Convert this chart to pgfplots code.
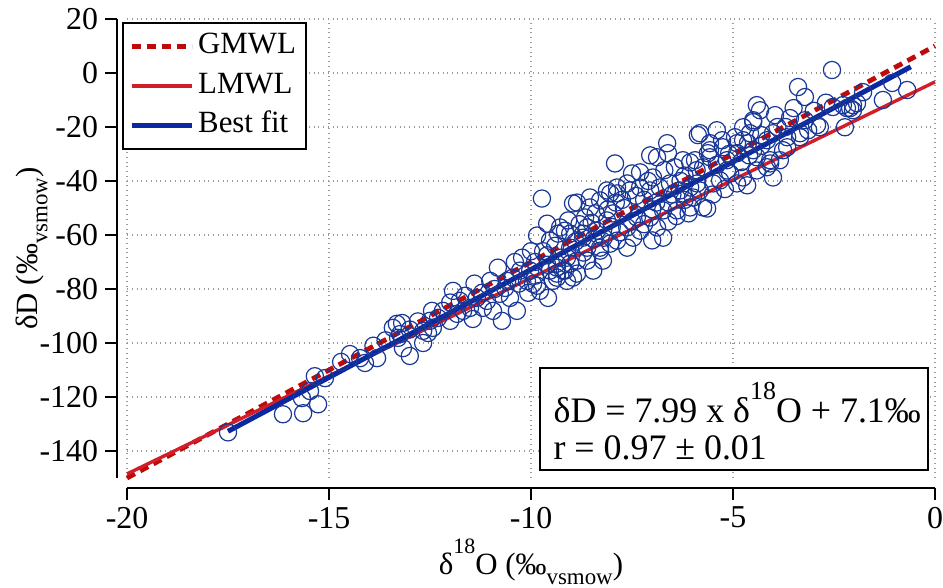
\documentclass[border=0pt]{standalone}
\usepackage{fontspec}
\setmainfont{Liberation Serif}
\usepackage{pgfplots}
\pgfplotsset{compat=1.18}
\definecolor{ptblue}{RGB}{25,55,150}
\definecolor{fitblue}{RGB}{10,40,160}
\definecolor{lmred}{RGB}{210,30,40}
\definecolor{gmred}{RGB}{190,10,10}
\pgfplotstableread{
x y
-17.5 -133.1
-16.14 -126.4
-15.64 -126.0
-15.27 -122.7
-15.35 -112.3
-15.1 -113.0
-15.67 -120.4
-15.47 -117.8
-14.48 -104.1
-14.23 -105.6
-14.11 -107.4
-13.81 -105.6
-13.42 -94.4
-13.19 -92.6
-13.29 -98.1
-13.17 -101.9
-13.0 -104.8
-12.67 -100.0
-12.55 -96.3
-12.45 -88.1
-12.3 -90.7
-12.0 -91.8
-11.93 -80.7
-11.76 -84.4
-11.68 -88.1
-11.44 -91.1
-11.34 -83.3
-11.19 -87.0
-10.94 -88.1
-10.77 -81.8
-10.72 -91.8
-10.35 -88.1
-10.59 -77.0
-10.22 -68.4
-10.02 -73.2
-9.95 -78.1
-9.78 -80.7
-9.58 -83.3
-9.53 -73.2
-9.36 -75.8
-9.21 -73.2
-9.03 -70.6
-8.96 -75.8
-10.82 -72.1
-10.07 -81.4
-9.85 -78.8
-9.9 -75.1
-9.85 -60.2
-9.53 -62.1
-9.6 -55.8
-9.33 -59.5
-9.16 -58.4
-9.28 -68.4
-9.36 -74.3
-9.46 -77.0
-9.16 -73.2
-9.11 -77.0
-11.51 -87.0
-11.09 -84.4
-11.63 -82.5
-11.83 -89.2
-12.18 -88.1
-12.5 -91.8
-12.67 -95.5
-12.43 -94.4
-13.32 -92.9
-13.24 -96.7
-10.64 -79.6
-10.52 -83.3
-11.01 -77.0
-11.21 -81.4
-10.1 -77.0
-9.73 -46.5
-8.86 -48.0
-8.54 -49.8
-8.29 -47.2
-8.12 -43.5
-7.87 -44.6
-8.66 -53.5
-9.08 -54.6
-9.03 -59.5
-8.71 -61.0
-8.37 -58.4
-8.12 -54.6
-7.97 -52.0
-8.29 -64.7
-8.04 -63.2
-8.46 -73.2
-8.86 -74.3
-8.61 -69.5
-9.11 -68.4
-9.36 -72.1
-10.27 -73.2
-10.45 -75.8
-8.22 -69.5
-7.92 -33.5
-6.88 -31.2
-6.61 -29.7
-7.05 -30.5
-6.06 -33.1
-6.44 -34.9
-5.62 -29.7
-7.5 -37.2
-7.3 -36.8
-6.98 -38.7
-7.87 -42.4
-7.62 -40.9
-8.04 -44.6
-8.54 -46.1
-8.96 -48.3
-7.55 -43.5
-7.3 -42.4
-7.05 -43.5
-6.81 -42.4
-6.56 -40.9
-6.31 -43.5
-6.06 -42.4
-5.82 -43.5
-5.74 -49.8
-6.06 -49.8
-6.39 -50.9
-6.73 -50.9
-7.05 -53.5
-7.38 -53.5
-7.62 -57.2
-7.3 -58.4
-6.73 -61.0
-6.88 -57.2
-7.87 -62.1
-8.61 -57.2
-9.28 -57.2
-9.03 -64.7
-8.61 -64.7
-8.29 -65.8
-8.86 -69.5
-9.36 -70.6
-7.62 -64.7
-7.47 -61.0
-8.71 -59.5
-2.55 1.1
-3.39 -5.2
-3.22 -8.9
-1.06 -3.7
-0.69 -6.3
-1.29 -10.0
-4.41 -11.9
-4.33 -13.8
-3.96 -15.6
-2.18 -13.0
-2.03 -11.9
-2.23 -20.1
-3.59 -16.7
-3.22 -17.5
-4.5 -17.5
-4.75 -20.1
-2.92 -19.3
-5.4 -21.2
-5.87 -23.0
-4.95 -23.8
-5.57 -28.6
-5.27 -24.9
-3.76 -28.6
-3.34 -23.8
-4.08 -32.3
-3.84 -32.3
-4.5 -28.6
-4.75 -24.9
-4.9 -26.0
-6.63 -26.0
-6.24 -32.3
-5.74 -34.9
-5.57 -31.2
-5.64 -50.2
-4.9 -40.9
-4.65 -41.6
-4.16 -34.9
-5.32 -39.8
-5.07 -37.2
-6.24 -44.6
-5.82 -22.3
-4.5 -18.2
-5.57 -26.0
-4.58 -22.3
-4.63 -26.0
-5.25 -27.5
-5.94 -32.3
-5.15 -32.3
-4.9 -29.7
-4.41 -31.2
-4.08 -33.5
-4.16 -24.9
-4.01 -22.3
-3.66 -23.8
-3.34 -22.3
-3.14 -21.2
-2.85 -20.1
-3.66 -27.5
-4.01 -38.7
-4.41 -36.1
-4.75 -38.7
-5.15 -36.1
-5.49 -40.9
-5.89 -40.9
-5.99 -46.1
-2.03 -13.8
-1.93 -11.2
-2.53 -12.6
-1.78 -7.1
-2.1 -13.0
-2.28 -11.9
-8.8 -56.0
-8.4 -52.0
-8.0 -57.0
-7.7 -50.0
-7.2 -47.0
-6.9 -48.0
-6.5 -45.0
-6.2 -38.0
-5.9 -36.0
-7.1 -40.0
-7.9 -48.0
-8.2 -61.0
-7.5 -55.0
-6.6 -55.0
-6.2 -47.0
-9.4 -64.0
-9.7 -66.0
-10.0 -66.0
-9.9 -70.0
-9.6 -71.0
-10.3 -78.0
-10.9 -80.0
-11.4 -78.0
-12.0 -85.0
-12.8 -92.0
-13.6 -99.0
-13.9 -101.0
-14.7 -107.0
-13.0 -95.0
-7.0 -62.0
-6.4 -53.0
-5.5 -45.0
-5.2 -43.0
-4.8 -33.0
-4.3 -27.0
-3.9 -20.0
-3.5 -13.0
-3.0 -14.0
-2.7 -11.0
-6.7 -36.0
-8.5 -55.5
-8.1 -50.5
-7.75 -47.0
-7.4 -45.5
-7.0 -50.5
-6.6 -48.0
-6.3 -40.0
-8.9 -62.5
-8.45 -61.5
-7.8 -59.0
-7.2 -56.0
-6.1 -52.0
-9.6 -67.5
-10.4 -70.0
-8.7 -66.5
-5.4 -34.0
-5.1 -30.0
-4.6 -30.5
-4.3 -23.0
-3.7 -20.0
}\obs
\begin{document}
\begin{tikzpicture}
\useasboundingbox (0,0) rectangle (471.5bp,294bp);
\begin{axis}[
  at={(63.5bp,55bp)}, anchor=south west,
  scale only axis, width=404bp, height=229.5bp,
  xmin=-20, xmax=0, ymin=-150, ymax=20,
  axis lines*=left,
  axis x line shift=5bp, axis y line shift=5bp,
  axis line style={line width=1bp, black},
  tick align=outside, major tick length=6bp,
  tick style={line width=1bp, black},
  xtick={-20,-15,...,0}, ytick={-140,-120,...,20},
  grid=major, grid style={dotted, gray!80, line width=0.6bp},
  /pgf/number format/assume math mode=true,
  xticklabel={\pgfmathprintnumber{\tick}},
  yticklabel={\pgfmathprintnumber{\tick}},
  ticklabel style={font=\rmfamily\fontsize{16}{18}\selectfont},
  xlabel={δ\raisebox{0.66em}{\fontsize{11}{11}\selectfont 18}O (‰\raisebox{-0.33em}{\fontsize{11.5}{11.5}\selectfont vsmow})},
  ylabel={δD (‰\raisebox{-0.33em}{\fontsize{11.5}{11.5}\selectfont vsmow})},
  label style={font=\fontsize{15.5}{17}\selectfont},
  xlabel style={at={(axis description cs:0.5,-0.183)}, anchor=center},
  ylabel style={at={(axis description cs:-0.118,0.5)}, anchor=center, rotate=0},
  legend image code/.code={\draw[#1] (0bp,0bp) -- (30bp,0bp);},
  legend cell align=left,
  legend style={at={(-0.006,0.9935)}, anchor=north west, draw=black, line width=1bp,
    font=\fontsize{15.5}{17}\selectfont, inner xsep=3bp, inner ysep=3bp,
    row sep=2.2bp,
    nodes={inner sep=2bp, text height=10.5bp, text depth=3bp}},
  clip=false,
]
\addplot[only marks, mark=o, mark size=4.3bp, mark options={line width=0.6bp, draw=ptblue}, forget plot] table[x=x,y=y] {\obs};
\addplot[gmred, line width=2.4bp, dash pattern=on 4.5bp off 3bp] coordinates {(-20,-150) (0,10)};
\addlegendentry{GMWL}
\addplot[lmred, line width=1.7bp] coordinates {(-20,-148.5) (0,-3.3)};
\addlegendentry{LMWL}
\addplot[fitblue, line width=2.5bp] coordinates {(-17.5,-132.7) (-0.6,2.3)};
\addlegendentry{Best fit}
\draw[line width=1bp, fill=white] (axis cs:-9.78,-109.3) rectangle (axis cs:-0.17,-147.0);
\node[anchor=base west, inner sep=0pt, font=\fontsize{18}{20}\selectfont] at (axis cs:-9.45,-129.6)
  {δD = 7.99 x δ\raisebox{0.66em}{\fontsize{13}{13}\selectfont 18}O + 7.1‰};
\node[anchor=base west, inner sep=0pt, font=\fontsize{18}{20}\selectfont] at (axis cs:-9.45,-143.3)
  {r = 0.97 ± 0.01};
\end{axis}
\end{tikzpicture}
\end{document}
